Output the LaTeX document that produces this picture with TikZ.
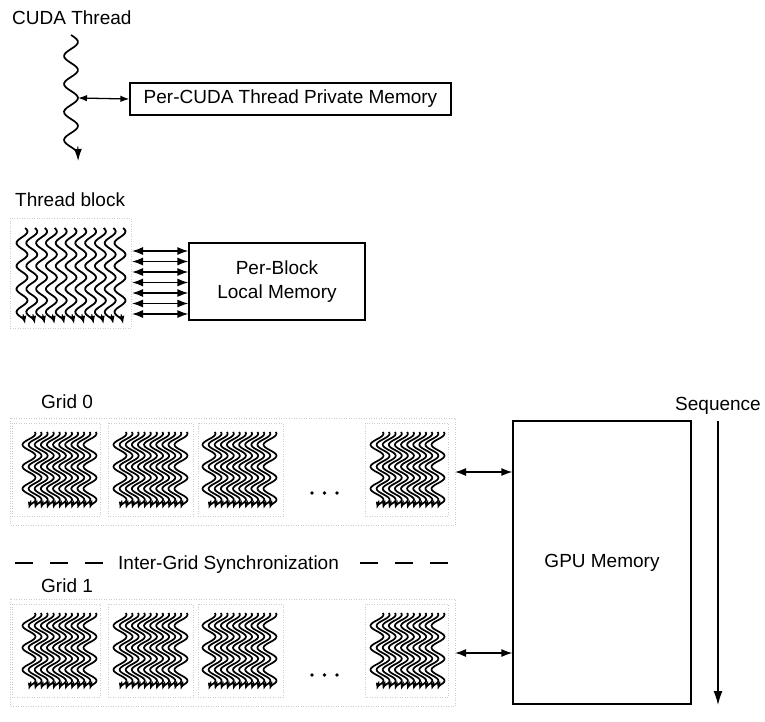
\documentclass[tikz,border=0pt]{standalone}
\usepackage{fontspec}
\setmainfont{Liberation Sans}
\usetikzlibrary{arrows.meta}
\tikzset{
  lbl/.style={font=\fontsize{19}{23}\selectfont, inner sep=0pt},
  membox/.style={draw, line width=1.2pt, font=\fontsize{19}{24}\selectfont, align=center, inner sep=0pt},
  dbl/.style={{Latex[length=11pt,width=8pt]}-{Latex[length=11pt,width=8pt]}, line width=1.4pt},
  sdbl/.style={{Latex[length=9pt,width=6.5pt]}-{Latex[length=9pt,width=6.5pt]}, line width=1.3pt},
  tw/.style={line width=1.7pt},
  twtip/.style={line width=1.2pt, -{Latex[length=12pt,width=8pt]}},
  bw/.style={line width=1.8pt},
  bwtip/.style={line width=1.2pt, -{Latex[length=8pt,width=6pt]}},
  gw/.style={line width=1.7pt},
  gwtip/.style={line width=1.2pt, -{Latex[length=7pt,width=5.5pt]}},
  faint/.style={draw=gray!40, dotted, line width=0.5pt},
  syncdash/.style={line width=1.2pt, dash pattern=on 18pt off 17pt},
  seq/.style={line width=1.3pt, -{Latex[length=14pt,width=9pt]}},
}
% x, y0, y1, amplitude, period, phase, style, tip length, tip slope factor
\newcommand\wavy[9]{%
  \pgfmathsetmacro\wk{360/#5}%
  \pgfmathsetmacro\wend{#3-0.6*#8}%
  \draw[#7] plot[domain=#2:\wend, samples=60, smooth, variable=\tt]
    ({#1+#4*sin(\wk*(\tt-#2)+#6)}, \tt);
  \pgfmathsetmacro\wph{\wk*(\wend-#2)+#6}%
  \pgfmathsetmacro\wex{#1+#4*sin(\wph)}%
  \pgfmathsetmacro\wsl{#4*cos(\wph)*6.2832/#5*#9}%
  \pgfmathsetmacro\wsx{\wex-\wsl*0.6*#8}%
  \pgfmathsetmacro\wsy{#3-1.2*#8}%
  \pgfmathsetmacro\wtx{\wex+\wsl*0.6*#8}%
  \draw[#7tip] (\wsx,\wsy) -- (\wtx,#3);}
% grid block: left x of waves, top y of waves
\newcommand\gblock[2]{%
  \pgfmathsetmacro\gbb{#2+77}%
  \foreach \i in {0,...,10}{%
    \pgfmathsetmacro\gbx{#1+7+6.1*\i}%
    \wavy{\gbx}{#2}{\gbb}{6.5}{22}{62}{gw}{7}{0.15}}}
\begin{document}
\begin{tikzpicture}[x=1pt,y=-1pt]
\useasboundingbox (0,0) rectangle (765,722);

% ---------- single thread ----------
\node[lbl, anchor=base west] (cudat) at (12,25) {CUDA Thread};
\wavy{71}{35}{161}{7}{28}{0}{tw}{12}{0.3}
\coordinate (tbranch) at (78,98);
\node[membox, minimum width=321pt, minimum height=32pt] (priv) at (290.5,99) {Per-CUDA Thread Private Memory};
\draw[sdbl] (tbranch) -- (priv.west);

% ---------- thread block ----------
\node[lbl, anchor=base west] (tblk) at (15,206) {Thread block};
\draw[faint] (10,218) rectangle (131,328);
\foreach \i in {0,...,10}{%
  \pgfmathsetmacro\bx{22+9.8*\i}%
  \wavy{\bx}{228}{324}{5.5}{23}{35}{bw}{8}{0.15}}
\node[membox, minimum width=176pt, minimum height=77pt] (local) at (277,281.5) {Per-Block\\Local Memory};
\foreach \k/\yy in {1/251,2/261.5,3/272,4/282.5,5/293,6/303.5,7/314}{%
  \coordinate (la\k) at (132,\yy);
  \draw[dbl] (la\k) -- (la\k -| local.west);}

% ---------- GPU memory ----------
\node[membox, minimum width=178pt, minimum height=283pt] (gpu) at (602,562.5) {GPU Memory};
\node[lbl, anchor=base west] (seqt) at (675,410) {Sequence};
\coordinate (seqa) at (718,421);
\coordinate (seqb) at (718,705);
\draw[seq] (seqa) -- (seqb);

% ---------- Grid 0 ----------
\node[lbl, anchor=base west] (g0) at (41,408) {Grid 0};
\draw[faint] (10,418) rectangle (455,525);
\draw[faint] (12,423) rectangle (100,516);
\draw[faint] (108,423) rectangle (193,516);
\draw[faint] (198,423) rectangle (283,516);
\draw[faint] (365,423) rectangle (448,516);
\gblock{22}{432}
\gblock{113}{432}
\gblock{202}{432}
\gblock{370}{432}
\foreach \dx in {312,324.5,337}{\fill (\dx,493) circle (1.9pt);}
\coordinate (g0r) at (455,472);
\draw[dbl] (g0r) -- (g0r -| gpu.west);

% ---------- sync ----------
\node[lbl, anchor=base west] (sync) at (118,569) {Inter-Grid Synchronization};
\coordinate (sl) at (15,563);
\coordinate (sr) at (448,563);
\draw[syncdash] (sl) -- ([xshift=-11pt]sl -| sync.west);
\draw[syncdash] (sr) -- ([xshift=12pt]sr -| sync.east);

% ---------- Grid 1 ----------
\node[lbl, anchor=base west] (g1) at (41,592) {Grid 1};
\draw[faint] (10,599) rectangle (455,706);
\draw[faint] (12,604) rectangle (100,697);
\draw[faint] (108,604) rectangle (193,697);
\draw[faint] (198,604) rectangle (283,697);
\draw[faint] (365,604) rectangle (448,697);
\gblock{22}{613}
\gblock{113}{613}
\gblock{202}{613}
\gblock{370}{613}
\foreach \dx in {312,324.5,337}{\fill (\dx,675) circle (1.9pt);}
\coordinate (g1r) at (455,653);
\draw[dbl] (g1r) -- (g1r -| gpu.west);
\end{tikzpicture}
\end{document}
